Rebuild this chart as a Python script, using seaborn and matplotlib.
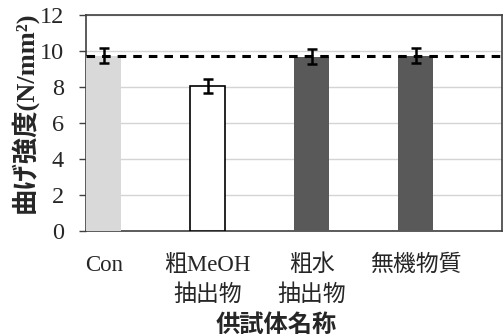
import matplotlib
matplotlib.use("Agg")
import matplotlib.pyplot as plt
import seaborn as sns
import pandas as pd

# Flexural strength by specimen type
categories = ["Con", "粗MeOH\n抽出物", "粗水\n抽出物", "無機物質"]
strength = [9.75, 8.05, 9.68, 9.75]
errors = [0.40, 0.40, 0.42, 0.42]
bar_colors = ["#d9d9d9", "#ffffff", "#595959", "#595959"]
edge_colors = ["none", "#000000", "none", "none"]
y_ticks = [0, 2, 4, 6, 8, 10, 12]

sns.set_theme(style="white")
fam = ["Liberation Serif", "Noto Sans CJK JP"]
plt.rcParams["font.family"] = fam

df = pd.DataFrame({"name": categories, "strength": strength})

fig = plt.figure(figsize=(5.03, 3.36), dpi=100)
ax = fig.add_axes([86 / 503, 1 - 231 / 336, 416 / 503, 216 / 336])

sns.barplot(data=df, x="name", y="strength", hue="name", palette=bar_colors,
            width=0.34, errorbar=None, legend=False, ax=ax, zorder=3)
for patch, ec in zip(ax.patches, edge_colors):
    if ec != "none":
        patch.set_edgecolor(ec)
        patch.set_linewidth(1.2)
    else:
        patch.set_linewidth(0)

ax.errorbar(x=list(range(len(categories))), y=strength, yerr=errors, fmt="none",
            ecolor="black", elinewidth=1.8, capsize=3.4, capthick=1.8, zorder=5)

# reference level of the control
ax.axhline(strength[0], color="black", linestyle=(0, (2.8, 2.3)), linewidth=2.2, zorder=4)

ax.set_ylim(0, 12)
ax.set_xlim(-0.17, 3.83)
ax.set_yticks(y_ticks)
ax.set_yticklabels([str(t) for t in y_ticks], fontsize=17.5, family=fam)
ax.yaxis.grid(True, color="#d4d4d4", linewidth=1.0, zorder=0)
ax.set_axisbelow(True)

ax.tick_params(axis="y", which="major", left=True, length=5, width=1.0,
               color="#404040", pad=11)
ax.tick_params(axis="x", length=0, pad=17)
for lbl in ax.get_xticklabels():
    lbl.set_fontsize(16.5)
    lbl.set_family(fam)
    lbl.set_linespacing(1.5)
    lbl.set_verticalalignment("top")

for side in ["left", "right", "top", "bottom"]:
    ax.spines[side].set_visible(True)
    ax.spines[side].set_color("#404040")
    ax.spines[side].set_linewidth(1.2)

ax.set_ylabel("曲げ強度(N/mm²)", fontsize=19, fontweight="bold", family=fam)
ax.yaxis.set_label_coords(-0.115, 0.55)
ax.set_xlabel("供試体名称", fontsize=17.5, fontweight="bold", family=fam)
ax.xaxis.set_label_coords(0.457, -0.385)

fig.savefig("out.png", dpi=100)
